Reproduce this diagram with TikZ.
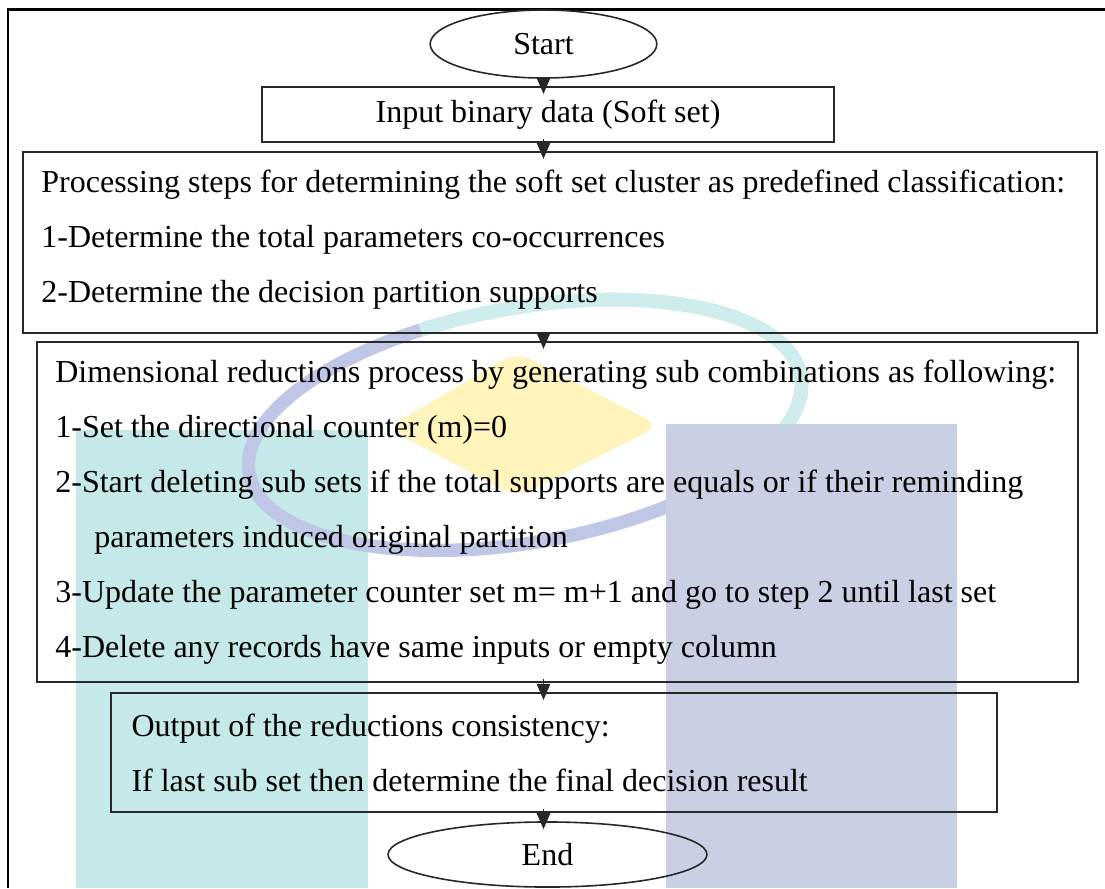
\documentclass[tikz,border=0pt]{standalone}
\usepackage{fontspec}
\setmainfont{Liberation Serif}
\usepackage{tikz}
\usetikzlibrary{shapes.geometric, arrows.meta, positioning, calc}
\usepackage{xcolor}
\definecolor{cTeal}{RGB}{197,233,232}
\definecolor{cNavy}{RGB}{201,208,228}
\definecolor{cYellow}{RGB}{255,244,188}
\definecolor{cRingTeal}{RGB}{206,237,236}
\definecolor{cRingNavy}{RGB}{192,198,229}
\definecolor{cLine}{RGB}{40,40,40}
\tikzset{
  termnode/.style={ellipse, draw=cLine, line width=0.6pt, inner sep=0pt,
                   font=\fontsize{12}{14}\selectfont},
  stepbox/.style={rectangle, draw=cLine, line width=0.8pt, inner sep=0pt,
                  font=\fontsize{12}{14}\selectfont},
  steptext/.style={anchor=west, inner sep=0pt, align=left,
                   font=\fontsize{12}{20.6}\selectfont},
  frameline/.style={line width=1pt, color=black},
  arrow/.style={-{Triangle[width=5pt,length=6pt]}, line width=0.6pt,
                color=cLine, shorten <=-1.5pt, shorten >=-3pt}
}

\begin{document}
\begin{tikzpicture}[x=0.375pt, y=-0.375pt]
  \useasboundingbox (0,0) rectangle (1105,888);

  % Watermark
  \fill[cTeal] (76,430) rectangle (368,888);
  \begin{scope}[shift={(525,425)}, rotate=10]
    \draw[cRingNavy, line width=5pt] (0pt,0pt) ellipse [x radius=105pt, y radius=44pt];
    \draw[cRingTeal, line width=5.2pt] (108:105pt and 44pt)
        arc[start angle=108, end angle=-30, x radius=105pt, y radius=44pt];
  \end{scope}
  \fill[cNavy] (666,424) rectangle (957,888);
  \fill[cYellow, rounded corners=6pt] (387,428) -- (517,352) -- (660,426) -- (517,497) -- cycle;

  % Frame
  \draw[frameline] (1105,9.5) -- (8,9.5) -- (8,888);

  % Steps
  \node[termnode, minimum width=85pt, minimum height=25.5pt] (start) at (543.5,44) {Start};
  \node[stepbox, minimum width=214.5pt, minimum height=20.6pt] (input) at (548,114.5)
      {Input binary data (Soft set)};
  \node[stepbox, minimum width=402.75pt, minimum height=67.9pt] (proc) at (560,242.5) {};
  \node[stepbox, minimum width=390.4pt, minimum height=127.5pt] (dim) at (557.5,512) {};
  \node[stepbox, minimum width=332.25pt, minimum height=44.6pt] (out) at (554,752.5) {};
  \node[termnode, minimum width=119.6pt, minimum height=24.4pt] (stop) at (547.5,854.5) {End};

  % Texts of the steps
  \node[steptext] (procText) at ([xshift=7.1pt,yshift=1pt]proc.west)
      {Processing steps for determining the soft set cluster as predefined classification:\\
       1-Determine the total parameters co-occurrences\\
       2-Determine the decision partition supports};
  \node[steptext] (dimText) at ([xshift=7.1pt]dim.west)
      {Dimensional reductions process by generating sub combinations as following:\\
       1-Set the directional counter (m)=0\\
       2-Start deleting sub sets if the total supports are equals or if their reminding\\
       \hspace*{14.6pt}parameters induced original partition\\
       3-Update the parameter counter set m= m+1 and go to step 2 until last set\\
       4-Delete any records have same inputs or empty column};
  \node[steptext] (outText) at ([xshift=7.9pt]out.west)
      {Output of the reductions consistency:\\
       If last sub set then determine the final decision result};

  % Connectors
  \draw[arrow] (start.south) -- (input.north -| start);
  \draw[arrow] (input.south -| start) -- (proc.north -| start);
  \draw[arrow] (proc.south -| start) -- (dim.north -| start);
  \draw[arrow] (dim.south -| start) -- (out.north -| start);
  \draw[arrow] (out.south -| start) -- (stop.north -| start);
\end{tikzpicture}
\end{document}
